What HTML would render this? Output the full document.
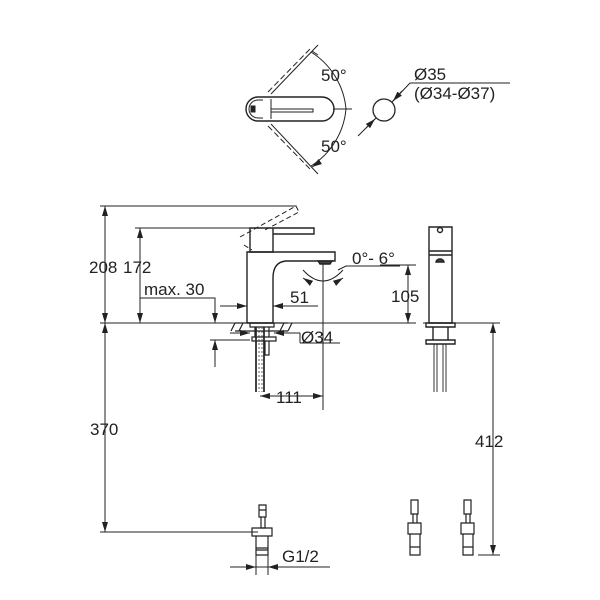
<!DOCTYPE html>
<html><head><style>body{margin:0;background:#fff}svg{display:block}text{font-family:"Liberation Sans",sans-serif;fill:#222}</style></head>
<body>
<svg width="600" height="600" viewBox="0 0 600 600" xmlns="http://www.w3.org/2000/svg">
<defs>
<marker id="a" viewBox="0 0 10 6" refX="10" refY="3" markerWidth="10" markerHeight="6" orient="auto-start-reverse" markerUnits="userSpaceOnUse"><path d="M0,0L10,3L0,6z" fill="#222"/></marker>
</defs>
<g stroke="#222" stroke-width="1" fill="none">
<!-- top view -->
<path d="M258,97 H322 A12,12 0 0 1 322,121 H258 A12,12 0 0 1 258,97Z" stroke-width="1.4"/>
<path d="M263,100 H258 A9,9 0 0 0 258,118 H263"/>
<rect x="251" y="106" width="4" height="6" fill="#222"/>
<path d="M271,99 V119 M271,109 H313 V112 H271"/>
<path d="M333,109 H352"/>
<path d="M271,94 L318,45 M271,124 L318,174"/>
<path d="M268,92 L310,49 M268,126 L310,169" stroke-dasharray="6,3"/>
<path d="M311,52 A75,75 0 0 1 346,109 A75,75 0 0 1 311,166"/>
<path d="M318,55 l-6,-4 M318,163 l-6,4" marker-end="url(#a)"/>
<circle cx="384" cy="110" r="11" stroke-width="1.3"/>
<path d="M358,136 L376,118 M392,102 L410,83 H510"/>
<path d="M366,128 L375,119" marker-end="url(#a)"/>
<path d="M402,91 L393,101" marker-end="url(#a)"/>
<!-- side view dims -->
<path d="M100,206 H296 M105,206 V323 M105,323 V532 M100,532 H258"/>
<path d="M105,216 V206" marker-end="url(#a)"/>
<path d="M105,313 V323" marker-end="url(#a)"/>
<path d="M105,333 V323" marker-end="url(#a)"/>
<path d="M105,522 V532" marker-end="url(#a)"/>
<path d="M135,228 H250 M140,228 V323"/>
<path d="M140,238 V228" marker-end="url(#a)"/>
<path d="M140,313 V323" marker-end="url(#a)"/>
<path d="M140,298 H215 V323"/>
<path d="M215,310 V323" marker-end="url(#a)"/>
<path d="M100,323 H416 M423,323 H500"/>
<!-- faucet -->
<g stroke-width="1.4">
<path d="M250,228 H273 V252 H250Z M273,228 H314 V234 H273"/>
<path d="M247,323 V252 H335 V261 H286 Q273,262 273,278 V323 M247,323 H273"/>
<path d="M318,261 h14 l-2,3 h-10z" fill="#444"/>
</g>
<path d="M240,237 L296,206 L299,212 L263,231 M244,245 L252,250" stroke-dasharray="5,3"/>
<path d="M220,306 H247 M273,306 H318"/>
<path d="M232,306 H247" marker-end="url(#a)"/>
<path d="M288,306 H273" marker-end="url(#a)"/>
<path d="M323,264 V410"/>
<path d="M303,270 Q323,292 343,270"/>
<path d="M335,283 L343,278" marker-end="url(#a)"/>
<path d="M311,283 L303,278" marker-end="url(#a)"/>
<path d="M338,270 L346,266 H400 M380,265 H416 M408,265 V323"/>
<path d="M408,277 V265" marker-end="url(#a)"/>
<path d="M408,311 V323" marker-end="url(#a)"/>
<!-- right view -->
<g stroke-width="1.4">
<path d="M429,323 V227 H452 V323 Z M429,251 H452 M429,255 H452"/>
<circle cx="440" cy="230" r="2.5"/>
<path d="M436,262 a4,3 0 0 1 8,0z" fill="#444"/>
<path d="M426,323 H455 V327 H426Z M426,340 H455 V344 H426Z M433,327 V340 M448,327 V340"/>
<path d="M434,344 V392 M446,344 V392 M437,344 V392 M443,344 V392" stroke-width="0.9"/>
</g>
<path d="M493,323 V555 M478,555 H500"/>
<path d="M493,335 V323" marker-end="url(#a)"/>
<path d="M493,543 V555" marker-end="url(#a)"/>
<!-- mounting -->
<g stroke-width="1.2">
<path d="M235,323 H288 M235,331 H288 M235,323 l-4,8 M243,323 l-4,8 M284,323 l-4,8 M292,323 l-4,8"/>
<path d="M250,323 H274 V327 H250Z M255,327 V337 M269,327 V337 M252,337 H276 V341 H252Z M265,341 V355 H269 V341"/>
<path d="M256,327 V392 M264,327 V392" stroke-width="1.7"/>
<path d="M259,327 V392 M262,327 V392" stroke-width="0.7" stroke-dasharray="2,2"/>
</g>
<path d="M230,333 H244 M280,333 H300" />
<path d="M238,333 H250" marker-end="url(#a)"/>
<path d="M286,333 H274" marker-end="url(#a)"/>
<path d="M300,343 H340 M300,333 V343"/>
<path d="M210,340 H250 M215,340 V367"/>
<path d="M215,353 V340" marker-end="url(#a)"/>
<path d="M260,396 H323"/>
<path d="M272,396 H260" marker-end="url(#a)"/>
<path d="M311,396 H323" marker-end="url(#a)"/>
<!-- fittings -->
<g stroke-width="1.2">
<path d="M259,505 H266 V517 H259Z M259,510 H266 M261,517 V528 H265 V517"/>
<path d="M252,528 H272 V536 H252Z M256,536 V550 H268 V536 M256,548 H268 V555 H256Z"/>
<path d="M411,500 H418 V514 H411Z M413,514 V523 H417 V514 M408,523 H421 V534 H408Z M410,534 V547 H420 V534 M410,547 H420 V555 H410Z"/>
<path d="M464,500 H471 V514 H464Z M466,514 V523 H470 V514 M461,523 H474 V534 H461Z M463,534 V547 H473 V534 M463,547 H473 V555 H463Z"/>
</g>
<path d="M256,555 V575 M268,555 V575 M230,567 H330"/>
<path d="M244,567 H256" marker-end="url(#a)"/>
<path d="M280,567 H268" marker-end="url(#a)"/>
</g>
<g font-size="17">
<text x="321" y="81">50°</text>
<text x="321" y="152">50°</text>
<text x="414" y="80">Ø35</text>
<text x="414" y="99">(Ø34-Ø37)</text>
<text x="89" y="273">208</text>
<text x="123" y="273">172</text>
<text x="144" y="295">max. 30</text>
<text x="290" y="303">51</text>
<text x="352" y="264">0°- 6°</text>
<text x="391" y="302">105</text>
<text x="301" y="343">Ø34</text>
<text x="276" y="403">111</text>
<text x="90" y="435">370</text>
<text x="475" y="447">412</text>
<text x="282" y="562">G1/2</text>
</g>
</svg>
</body></html>
